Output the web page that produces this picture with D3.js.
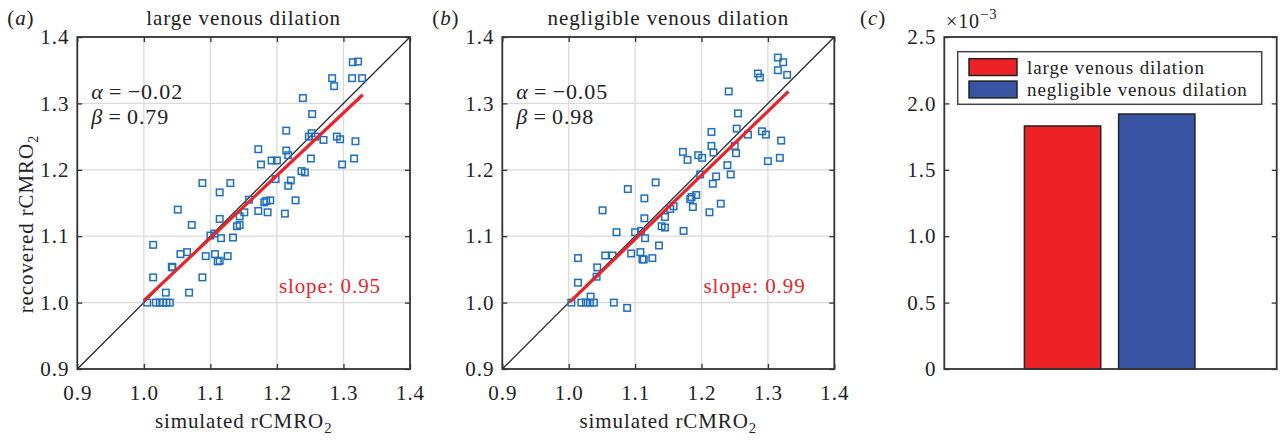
<html>
<head>
  <script src="https://d3js.org/d3.v7.min.js"></script>
  <style>
    body { margin: 0; background: white; }
    text { font-family: "Liberation Serif", "Times New Roman", serif; fill: #222; letter-spacing: 0.9px; }
  </style>
</head>
<body>
  <svg id="fig" width="1280" height="441"></svg>
  <script>
    // ---- data ----
    const axisTicks = [0.9, 1.0, 1.1, 1.2, 1.3, 1.4];

    // (a) large venous dilation
    const largeSimulated = [1.314, 1.322, 1.283, 1.313, 1.328, 1.286, 1.239, 1.253, 1.214, 1.172,
      1.176, 1.214, 1.217, 1.192, 1.200, 1.248, 1.252, 1.258, 1.270, 1.290,
      1.295, 1.318, 1.251, 1.316, 1.298, 1.237, 1.242, 1.198, 1.221, 1.217,
      1.088, 1.130, 1.114, 1.158, 1.181, 1.184, 1.190, 1.228, 1.172, 1.186,
      1.212, 1.151, 1.144, 1.140, 1.144, 1.051, 1.072, 1.114, 1.100, 1.106,
      1.116, 1.134, 1.014, 1.055, 1.065, 1.093, 1.107, 1.111, 1.114, 1.126,
      1.042, 1.043, 1.014, 1.088, 1.033, 1.068, 1.005, 1.018, 1.024, 1.029,
      1.034, 1.039];
    const largeRecovered = [1.362, 1.363, 1.338, 1.338, 1.338, 1.326, 1.308, 1.284, 1.259, 1.231,
      1.208, 1.229, 1.222, 1.214, 1.214, 1.250, 1.255, 1.250, 1.245, 1.250,
      1.246, 1.243, 1.217, 1.217, 1.208, 1.198, 1.196, 1.186, 1.184, 1.176,
      1.180, 1.180, 1.166, 1.155, 1.151, 1.153, 1.154, 1.154, 1.138, 1.136,
      1.134, 1.136, 1.130, 1.115, 1.117, 1.140, 1.117, 1.126, 1.101, 1.104,
      1.097, 1.098, 1.087, 1.073, 1.076, 1.070, 1.073, 1.062, 1.063, 1.070,
      1.054, 1.053, 1.038, 1.038, 1.015, 1.015, 1.000, 1.000, 1.000, 1.000,
      1.000, 1.000];
    const largeFitX = [1.0, 1.329];
    const largeFitY = [1.003, 1.313];

    // (b) negligible venous dilation
    const negSimulated = [1.315, 1.323, 1.315, 1.329, 1.285, 1.288, 1.241, 1.255, 1.253, 1.215,
      1.215, 1.218, 1.172, 1.179, 1.195, 1.201, 1.252, 1.250, 1.270, 1.291,
      1.297, 1.320, 1.318, 1.300, 1.239, 1.244, 1.222, 1.217, 1.198, 1.192,
      1.183, 1.185, 1.187, 1.229, 1.212, 1.158, 1.153, 1.145, 1.140, 1.145,
      1.173, 1.089, 1.131, 1.114, 1.051, 1.114, 1.072, 1.100, 1.109, 1.115,
      1.136, 1.094, 1.108, 1.111, 1.113, 1.126, 1.055, 1.066, 1.014, 1.043,
      1.042, 1.014, 1.033, 1.004, 1.019, 1.026, 1.032, 1.038, 1.068, 1.088];
    const negRecovered = [1.369, 1.362, 1.350, 1.343, 1.345, 1.339, 1.318, 1.285, 1.262, 1.257,
      1.236, 1.226, 1.227, 1.215, 1.222, 1.218, 1.225, 1.236, 1.253, 1.258,
      1.253, 1.244, 1.218, 1.213, 1.207, 1.193, 1.190, 1.179, 1.193, 1.162,
      1.156, 1.159, 1.144, 1.149, 1.136, 1.145, 1.141, 1.129, 1.115, 1.113,
      1.108, 1.171, 1.181, 1.157, 1.139, 1.127, 1.106, 1.106, 1.108, 1.097,
      1.086, 1.074, 1.076, 1.065, 1.065, 1.067, 1.071, 1.071, 1.067, 1.053,
      1.039, 1.030, 1.009, 1.000, 1.000, 1.000, 1.000, 1.000, 1.000, 0.992];
    const negFitX = [1.002, 1.331];
    const negFitY = [1.001, 1.318];

    // (c) bars
    const barCategories = ["large venous dilation", "negligible venous dilation"];
    const barValues = [1.83e-3, 1.92e-3];
    const barTicks = [0, 0.5e-3, 1.0e-3, 1.5e-3, 2.0e-3, 2.5e-3];

    const blue = "#1f6fc0", red = "#e8242b";
    const barColors = ["#ec2227", "#3a54a4"];

    const svg = d3.select("svg#fig");
    const FS = 21;

    function addSub(sel, main, sub) {
      sel.append("tspan").text(main);
      sel.append("tspan").attr("dy", 5).style("font-size", (FS * 0.7) + "px").text(sub);
    }

    function inwardAxes(g, x, y, x0, x1, y0, y1, xt, yt, labelX, labelY) {
      const xb = d3.axisBottom(x).tickValues(xt).tickSize(-5).tickPadding(16)
        .tickFormat(labelX ? d3.format(".1f") : "");
      const xtop = d3.axisTop(x).tickValues(xt).tickSize(-5).tickFormat("");
      const yl = d3.axisLeft(y).tickValues(yt).tickSize(-5).tickPadding(8)
        .tickFormat(labelY);
      const yr = d3.axisRight(y).tickValues(yt).tickSize(-5).tickFormat("");
      [[xb, `translate(0,${y0})`], [xtop, `translate(0,${y1})`],
       [yl, `translate(${x0},0)`], [yr, `translate(${x1},0)`]].forEach(([ax, tr]) => {
        const a = g.append("g").attr("transform", tr).call(ax);
        a.select(".domain").remove();
        a.selectAll("line").attr("stroke", "#333").attr("stroke-width", 1.3);
        a.selectAll("text").style("font-size", FS + "px")
          .style("font-family", "'Liberation Serif', serif").attr("fill", "#222");
      });
      g.append("rect").attr("x", x0).attr("y", y1).attr("width", x1 - x0).attr("height", y0 - y1)
        .attr("fill", "none").attr("stroke", "#333").attr("stroke-width", 1.8);
    }

    function scatterPanel(left, right, tag, title, alpha, beta, slope, xs, ys, fitX, fitY) {
      const top = 37, bottom = 369;
      const x = d3.scaleLinear().domain([0.9, 1.4]).range([left, right]);
      const y = d3.scaleLinear().domain([0.9, 1.4]).range([bottom, top]);
      const g = svg.append("g");

      // grid
      const inner = axisTicks.slice(1, -1);
      g.selectAll(".gx").data(inner).join("line")
        .attr("x1", d => x(d)).attr("x2", d => x(d)).attr("y1", top).attr("y2", bottom)
        .attr("stroke", "#dadada").attr("stroke-width", 1.3);
      g.selectAll(".gy").data(inner).join("line")
        .attr("y1", d => y(d)).attr("y2", d => y(d)).attr("x1", left).attr("x2", right)
        .attr("stroke", "#dadada").attr("stroke-width", 1.3);

      // identity line
      g.append("line").attr("x1", x(0.9)).attr("y1", y(0.9)).attr("x2", x(1.4)).attr("y2", y(1.4))
        .attr("stroke", "#222").attr("stroke-width", 1.2);

      // points
      const pts = xs.map((v, i) => [v, ys[i]]);
      const s = 6.5;
      g.selectAll("rect.pt").data(pts).join("rect").attr("class", "pt")
        .attr("x", d => x(d[0]) - s / 2).attr("y", d => y(d[1]) - s / 2)
        .attr("width", s).attr("height", s)
        .attr("fill", "none").attr("stroke", blue).attr("stroke-width", 1.5);

      // fit line
      g.append("path").datum(fitX.map((v, i) => [v, fitY[i]]))
        .attr("d", d3.line().x(d => x(d[0])).y(d => y(d[1])))
        .attr("stroke", red).attr("stroke-width", 3.2).attr("fill", "none");

      inwardAxes(g, x, y, left, right, bottom, top, axisTicks, axisTicks, true, d3.format(".1f"));

      // texts
      const cx = (left + right) / 2;
      g.append("text").attr("x", cx).attr("y", 25).attr("text-anchor", "middle")
        .style("font-size", FS + "px").text(title);
      const lab = g.append("text").attr("x", cx).attr("y", 428).attr("text-anchor", "middle")
        .style("font-size", FS + "px");
      addSub(lab, "simulated rCMRO", "2");

      const pl = g.append("text").attr("x", left - 70).attr("y", 25).style("font-size", FS + "px");
      pl.append("tspan").text("(");
      pl.append("tspan").style("font-style", "italic").text(tag);
      pl.append("tspan").text(")");

      const at = g.append("text").attr("x", left + 14).attr("y", 99).style("font-size", (FS + 1) + "px");
      at.append("tspan").style("font-style", "italic").text("α");
      at.append("tspan").text("\u2009=\u2009" + alpha);
      const bt = g.append("text").attr("x", left + 14).attr("y", 124).style("font-size", (FS + 1) + "px");
      bt.append("tspan").style("font-style", "italic").text("β");
      bt.append("tspan").text("\u2009=\u2009" + beta);

      g.append("text").attr("x", x(1.203)).attr("y", 293).style("font-size", FS + "px")
        .style("fill", red).text("slope: " + slope);
      return g;
    }

    scatterPanel(77.3, 410, "a", "large venous dilation", "−0.02", "0.79", "0.95",
      largeSimulated, largeRecovered, largeFitX, largeFitY);
    scatterPanel(502.3, 834.3, "b", "negligible venous dilation", "−0.05", "0.98", "0.99",
      negSimulated, negRecovered, negFitX, negFitY);

    // y label of (a)
    const yl = svg.append("text").attr("transform", "translate(33,224) rotate(-90)")
      .attr("text-anchor", "middle").style("font-size", FS + "px");
    addSub(yl, "recovered rCMRO", "2");

    // ---- (c) bar chart ----
    const cL = 944.3, cR = 1276.7, cT = 37, cB = 369;
    const xc = d3.scaleLinear().domain([0.5, 1.5]).range([cL, cR]);
    const yc = d3.scaleLinear().domain([0, 2.5e-3]).range([cB, cT]);
    const band = d3.scaleBand().domain(barCategories).range([xc(0.741), xc(1.254)]).paddingInner(0.19);
    const gc = svg.append("g");

    gc.selectAll("rect.bar").data(barCategories).join("rect").attr("class", "bar")
      .attr("x", d => band(d)).attr("width", band.bandwidth())
      .attr("y", (d, i) => yc(barValues[i])).attr("height", (d, i) => cB - yc(barValues[i]))
      .attr("fill", (d, i) => barColors[i]).attr("stroke", "#222").attr("stroke-width", 1.5);

    inwardAxes(gc, xc, yc, cL, cR, cB, cT, [], barTicks, false,
      d => d === 0 ? "0" : (d * 1e3).toFixed(1));

    const pc = gc.append("text").attr("x", 860).attr("y", 25).style("font-size", FS + "px");
    pc.append("tspan").text("(");
    pc.append("tspan").style("font-style", "italic").text("c");
    pc.append("tspan").text(")");

    const ex = gc.append("text").attr("x", 946).attr("y", 28).style("font-size", (FS - 1) + "px");
    ex.append("tspan").text("×10");
    ex.append("tspan").attr("dy", -9).style("font-size", (FS * 0.7) + "px").text("−3");

    // legend
    const lg = gc.append("g");
    lg.append("rect").attr("x", 957.7).attr("y", 51.7).attr("width", 304).attr("height", 52.6)
      .attr("fill", "white").attr("stroke", "#444").attr("stroke-width", 1.5);
    barCategories.forEach((c, i) => {
      lg.append("rect").attr("x", 969).attr("y", 58.7 + i * 22.4).attr("width", 48).attr("height", 16.8)
        .attr("fill", barColors[i]).attr("stroke", "#222").attr("stroke-width", 1.5);
      lg.append("text").attr("x", 1027).attr("y", 74 + i * 22.2).style("font-size", "19px").text(c);
    });
  </script>
</body>
</html>
